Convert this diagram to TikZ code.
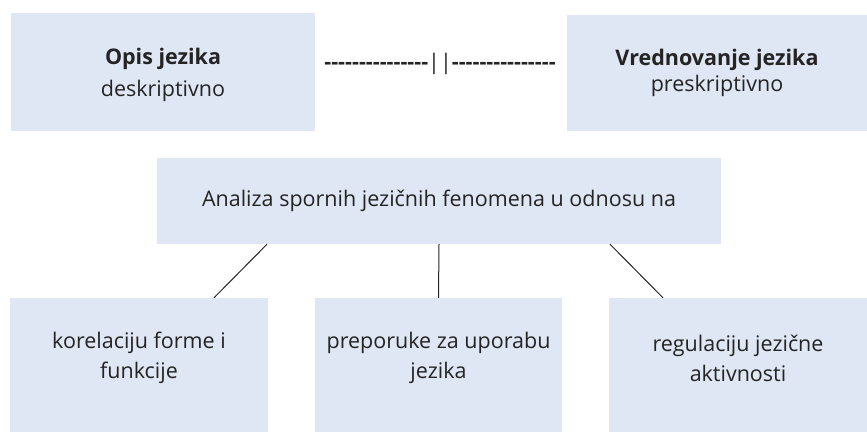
\documentclass[tikz,border=0pt]{standalone}
\usepackage{fontspec}
\setmainfont{Open Sans}
\newfontfamily\dashfont{Open Sans}[Ligatures=TeXOff]
\definecolor{boxblue}{HTML}{DFE7F4}
\definecolor{ink}{HTML}{242424}

\begin{document}
\begin{tikzpicture}[x=1pt,y=-1pt,
  box/.style={fill=boxblue,inner sep=0pt},
  txt/.style={inner sep=0pt,align=center,text=ink,
    font=\fontsize{21.5}{30}\selectfont},
  link/.style={draw=ink,line width=1pt}]
\useasboundingbox (0,0) rectangle (867,432);

% gornji red
\node[box,minimum width=304,minimum height=118] (opis) at (163,72) {};
\node[txt] (opisT) at ([yshift=-3]opis.center)
  {{\bfseries Opis jezika}\\[2pt]deskriptivno};
\node[box,minimum width=300,minimum height=116] (vred) at (717,73) {};
\node[txt] (vredT) at (vred.center)
  {{\bfseries Vrednovanje jezika}\\[-4pt]preskriptivno};
\node[txt,font=\dashfont\fontsize{21.5}{30}\selectfont] (crta) at (440,64)
  {{\bfseries ---------------}||{\bfseries ---------------}};

% sredina
\node[box,minimum width=564,minimum height=86] (ana) at (439,201) {};
\node[txt] (anaT) at (ana.center) {Analiza spornih jezičnih fenomena u odnosu na};

% donji red
\node[box,minimum width=258,minimum height=134] (kor) at (139,365) {};
\node[txt] (korT) at ([yshift=7]kor.center) {korelaciju forme i\\funkcije};
\node[box,minimum width=247,minimum height=134] (prep) at (438.5,365) {};
\node[txt] (prepT) at ([yshift=7]prep.center) {preporuke za uporabu\\jezika};
\node[box,minimum width=258,minimum height=134] (reg) at (738,365) {};
\node[txt] (regT) at ([yshift=7]reg.center) {regulaciju jezične\\aktivnosti};

\draw[link] ([xshift=-172]ana.south) -- ([xshift=75]kor.north);
\draw[link] (ana.south) -- (prep.north);
\draw[link] ([xshift=171]ana.south) -- ([xshift=-75]reg.north);
\end{tikzpicture}
\end{document}
